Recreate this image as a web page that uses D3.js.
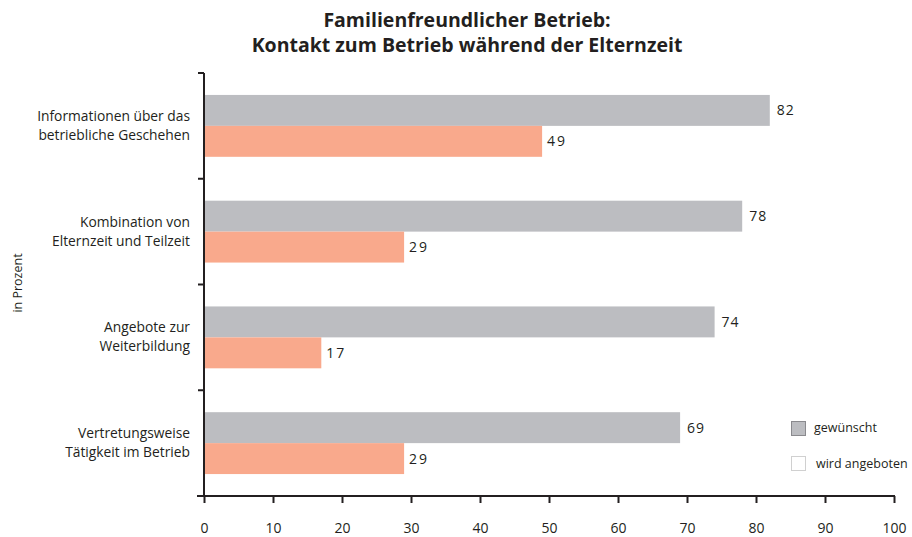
<!DOCTYPE html>
<html><head><meta charset="utf-8">
<script src="https://cdn.jsdelivr.net/npm/d3@7"></script>
<style>body{margin:0;background:#fff;} text{font-family:"Open Sans","Noto Sans",sans-serif;fill:#231f20;}</style>
</head><body>
<svg id="c" width="912" height="537"></svg>
<script>
const categories = [
  ["Informationen über das","betriebliche Geschehen"],
  ["Kombination von","Elternzeit und Teilzeit"],
  ["Angebote zur","Weiterbildung"],
  ["Vertretungsweise","Tätigkeit im Betrieb"]
];
const gewuenscht = [82, 78, 74, 69];
const angeboten = [49, 29, 17, 29];
const xTicks = [0,10,20,30,40,50,60,70,80,90,100];
const seriesNames = ["gewünscht","wird angeboten"];
const title = ["Familienfreundlicher Betrieb:","Kontakt zum Betrieb während der Elternzeit"];
const yTitle = "in Prozent";

const svg = d3.select("#c");
const m = {left:204, right:894, top:73, bottom:496};
const x = d3.scaleLinear().domain([0,100]).range([m.left, m.right]);
const y = d3.scaleBand().domain(d3.range(categories.length)).range([m.top, m.bottom]).paddingInner(0.415).paddingOuter(0.2075);
const grey = "#bcbdc1", salmon = "#f9a98c";

// Title
svg.append("g").selectAll("text").data(title).join("text")
  .attr("x", 467).attr("y", (d,i)=>27+i*25).attr("text-anchor","middle")
  .style("font-size","19.5px").style("font-weight","700").text(d=>d);

// Bars
const bh = y.bandwidth()/2;
svg.append("g").selectAll("rect").data(gewuenscht).join("rect")
  .attr("x", x(0)).attr("y",(d,i)=>y(i)).attr("width",d=>x(d)-x(0)).attr("height",bh).attr("fill",grey);
svg.append("g").selectAll("rect").data(angeboten).join("rect")
  .attr("x", x(0)).attr("y",(d,i)=>y(i)+bh).attr("width",d=>x(d)-x(0)).attr("height",bh).attr("fill",salmon);

// Value labels
svg.append("g").selectAll("text").data(gewuenscht).join("text")
  .attr("x",d=>x(d)+7).attr("y",(d,i)=>y(i)+bh/2+5).style("font-size","14px").style("letter-spacing","1px").text(d=>d);
svg.append("g").selectAll("text").data(angeboten).join("text")
  .attr("x",d=>x(d)+5).attr("y",(d,i)=>y(i)+bh*1.5+5).style("font-size","14px").style("letter-spacing","2px").text(d=>d);

// X axis
const xa = svg.append("g").attr("transform",`translate(0,${m.bottom})`)
  .call(d3.axisBottom(x).tickValues(xTicks).tickSize(7).tickPadding(20).tickSizeOuter(0));
xa.select(".domain").attr("stroke","#231f20").attr("stroke-width",2).attr("d",`M${m.left-7},0H${m.right+1}`);
xa.selectAll(".tick line").attr("stroke","#231f20").attr("stroke-width",2);
xa.selectAll(".tick text").style("font-size","14px").style("font-family","'Open Sans','Noto Sans',sans-serif").attr("fill","#231f20");

// Y axis line with boundary ticks
const bounds = d3.range(categories.length).map(i=> y(i)-y.step()*y.paddingInner()/2);
svg.append("line").attr("x1",m.left).attr("x2",m.left).attr("y1",m.top).attr("y2",m.bottom).attr("stroke","#231f20").attr("stroke-width",2);
svg.append("g").selectAll("line").data(bounds).join("line")
  .attr("x1",m.left-6).attr("x2",m.left).attr("y1",d=>d).attr("y2",d=>d).attr("stroke","#231f20").attr("stroke-width",2);

// Category labels
categories.forEach((lines,i)=>{
  const cy = y(i)+bh;
  svg.append("g").selectAll("text").data(lines).join("text")
    .attr("x",190).attr("y",(d,j)=>cy-5+j*19).attr("text-anchor","end")
    .style("font-size","13.8px").text(d=>d);
});

// Y title
svg.append("text").attr("transform","translate(22,283) rotate(-90)").attr("text-anchor","middle")
  .style("font-size","12.5px").text(yTitle);

// Legend
const lg = svg.append("g");
lg.append("rect").attr("x",791.5).attr("y",421.5).attr("width",14).attr("height",14).attr("fill","#bcbdc1").attr("stroke","#8a8a8e");
lg.append("rect").attr("x",791.5).attr("y",456.5).attr("width",14).attr("height",14).attr("fill","#fff").attr("stroke","#d0d0d0");
lg.selectAll("text").data(seriesNames).join("text")
  .attr("x",(d,i)=>i?816:814).attr("y",(d,i)=>432+i*36).style("font-size","12.5px").text(d=>d);
</script>
</body></html>
